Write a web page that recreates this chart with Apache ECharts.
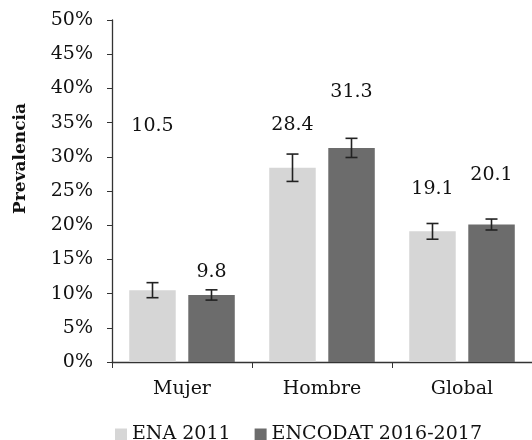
<!DOCTYPE html>
<html><head><meta charset="utf-8">
<script src="https://cdn.jsdelivr.net/npm/echarts@6/dist/echarts.min.js"></script>
<style>html,body{margin:0;padding:0;background:#fff}#c{width:532px;height:440px}</style>
</head><body><div id="c"></div>
<script>
var categories = ['Mujer', 'Hombre', 'Global'];
var seriesNames = ['ENA 2011', 'ENCODAT 2016-2017'];
var ena2011 = [10.5, 28.4, 19.1];
var encodat = [9.8, 31.3, 20.1];
var enaErr = [1.1, 2.0, 1.15];
var encodatErr = [0.75, 1.4, 0.8];
var yTicks = [0, 5, 10, 15, 20, 25, 30, 35, 40, 45, 50];

// layout (pixels), kept separate from the data
var labelLift = [[164, 43, 42], [23, 56, 49]];
var barW = 46.5, barOffset = 29.5;
var FONT = 'DejaVu Serif';
var TXT = '#111';
var colors = ['#d6d6d6', '#6c6c6c'];

function errSeries(vals, errs, sIdx) {
  return {
    type: 'custom',
    silent: true,
    z: 5,
    data: vals.map(function (v, i) { return [i, v, errs[i]]; }),
    renderItem: function (params, api) {
      var i = api.value(0), v = api.value(1), e = api.value(2);
      var c = api.coord([i, v]);
      var x = c[0] + (sIdx === 0 ? -barOffset : barOffset);
      var top = api.coord([i, v + e])[1];
      var bot = api.coord([i, v - e])[1];
      var st = { stroke: '#222', lineWidth: 1.6 };
      return {
        type: 'group',
        children: [
          { type: 'line', shape: { x1: x, y1: top, x2: x, y2: bot }, style: st },
          { type: 'line', shape: { x1: x - 6, y1: top, x2: x + 6, y2: top }, style: st },
          { type: 'line', shape: { x1: x - 6, y1: bot, x2: x + 6, y2: bot }, style: st },
          { type: 'text', style: { x: x, y: c[1] - labelLift[sIdx][i], text: v.toFixed(1),
              fill: TXT, font: '19px "' + FONT + '"', align: 'center', verticalAlign: 'middle' } }
        ]
      };
    }
  };
}

var chart = echarts.init(document.getElementById('c'));
chart.setOption({
  animation: false,
  textStyle: { fontFamily: FONT },
  grid: { left: 112, top: 20, bottom: 78, right: -10.5, containLabel: false },
  legend: {
    data: seriesNames,
    left: 110, top: 420,
    icon: 'rect', itemWidth: 12, itemHeight: 12, itemGap: 24,
    textStyle: { fontFamily: FONT, fontSize: 19, color: TXT }
  },
  graphic: [{
    type: 'text', left: 12, top: 103, rotation: Math.PI / 2,
    style: { text: 'Prevalencia', font: 'bold 17px "' + FONT + '"', fill: TXT }
  }],
  xAxis: {
    type: 'category', data: categories,
    axisLine: { lineStyle: { color: '#333', width: 1.3 } },
    axisTick: { show: true, length: 6, lineStyle: { color: '#333' } },
    axisLabel: { fontFamily: FONT, fontSize: 19, color: TXT, margin: 18 }
  },
  yAxis: {
    type: 'value', min: 0, max: 50, interval: 5,
    splitLine: { show: false },
    axisLine: { show: true, lineStyle: { color: '#333', width: 1.3 } },
    axisTick: { show: true, length: 5, lineStyle: { color: '#333' } },
    axisLabel: { fontFamily: FONT, fontSize: 19, color: TXT, margin: 19,
      formatter: function (v) { return yTicks.indexOf(v) >= 0 ? v + '%' : ''; } }
  },
  series: [
    { name: seriesNames[0], type: 'bar', data: ena2011, barWidth: barW, barGap: '27%',
      itemStyle: { color: colors[0] } },
    { name: seriesNames[1], type: 'bar', data: encodat, barWidth: barW, barGap: '27%',
      itemStyle: { color: colors[1] } },
    errSeries(ena2011, enaErr, 0),
    errSeries(encodat, encodatErr, 1)
  ]
});
</script></body></html>
